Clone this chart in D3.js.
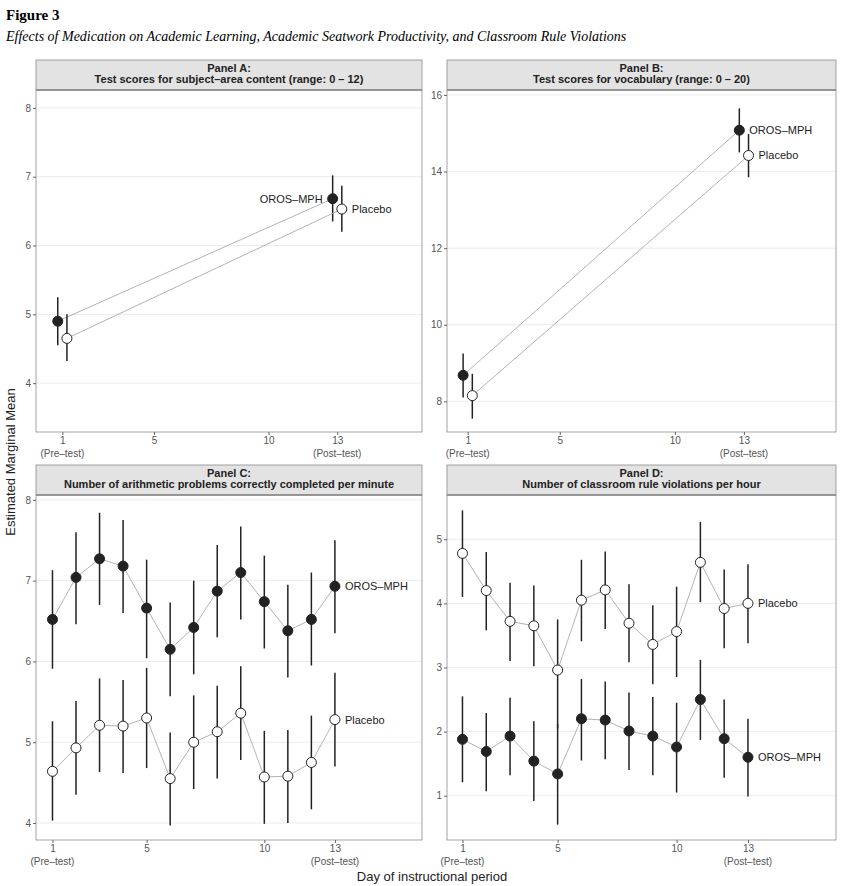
<!DOCTYPE html>
<html><head><meta charset="utf-8">
<script src="https://cdn.jsdelivr.net/npm/d3@7"></script>
<style>
body{margin:0;background:#fff}
text{font-family:"Liberation Sans Narrow","Liberation Sans",Arial,sans-serif}
</style></head>
<body><svg id="fig" width="843" height="886"></svg>
<script>
// data
const days = [1,2,3,4,5,6,7,8,9,10,11,12,13];

const aOros = [4.9, 6.68], aOrosLo = [4.55, 6.35], aOrosHi = [5.25, 7.02];
const aPlac = [4.65, 6.53], aPlacLo = [4.32, 6.2], aPlacHi = [5.0, 6.87];

const bOros = [8.68, 15.08], bOrosLo = [8.1, 14.5], bOrosHi = [9.25, 15.65];
const bPlac = [8.15, 14.42], bPlacLo = [7.55, 13.85], bPlacHi = [8.72, 14.98];

const cOros = [6.52,7.04,7.27,7.18,6.66,6.15,6.42,6.87,7.1,6.74,6.38,6.52,6.93];
const cOrosLo = [5.91,6.46,6.7,6.6,6.04,5.57,5.84,6.3,6.52,6.16,5.8,5.95,6.35];
const cOrosHi = [7.13,7.6,7.84,7.75,7.26,6.73,7.0,7.44,7.67,7.31,6.95,7.1,7.5];
const cPlac = [4.64,4.93,5.21,5.2,5.3,4.55,5.0,5.13,5.36,4.57,4.58,4.75,5.28];
const cPlacLo = [4.03,4.35,4.63,4.62,4.68,3.97,4.42,4.55,4.78,3.99,4.0,4.17,4.7];
const cPlacHi = [5.26,5.51,5.79,5.77,5.92,5.12,5.58,5.7,5.94,5.14,5.15,5.33,5.86];

const dPlac = [4.78,4.2,3.72,3.65,2.96,4.05,4.21,3.69,3.36,3.56,4.64,3.92,4.0];
const dPlacLo = [4.1,3.58,3.1,3.02,2.05,3.41,3.6,3.08,2.74,2.85,4.02,3.3,3.38];
const dPlacHi = [5.45,4.8,4.32,4.28,3.75,4.68,4.81,4.3,3.97,4.26,5.27,4.53,4.61];
const dOros = [1.88,1.69,1.93,1.54,1.34,2.2,2.18,2.01,1.93,1.76,2.5,1.89,1.6];
const dOrosLo = [1.21,1.07,1.32,0.92,0.55,1.55,1.57,1.4,1.32,1.05,1.87,1.28,0.99];
const dOrosHi = [2.55,2.29,2.53,2.16,2.12,2.82,2.78,2.61,2.54,2.45,3.12,2.5,2.2];

const xTicks = [1,5,10,13];

const svg = d3.select("#fig");

svg.append("text").attr("x",6).attr("y",20).text("Figure 3")
  .style("font-family","Liberation Serif").style("font-weight","bold").style("font-size","15px");
svg.append("text").attr("x",6).attr("y",41)
  .text("Effects of Medication on Academic Learning, Academic Seatwork Productivity, and Classroom Rule Violations")
  .style("font-family","Liberation Serif").style("font-style","italic").style("font-size","14px");

function pre(arr, lo, hi){ return arr.map((v,i)=>({v, lo:lo[i], hi:hi[i]})); }

const panels = [
  {l:36, r:422, t:60, b:432, title:["Panel A:","Test scores for subject–area content (range: 0 – 12)"],
   x:[-0.15,16.7], y:[3.29,8.26], yt:[4,5,6,7,8], dodge:0.2, xs:[1,13],
   oros:pre(aOros,aOrosLo,aOrosHi), plac:pre(aPlac,aPlacLo,aPlacHi), orosLeft:true},
  {l:447, r:836, t:60, b:432, title:["Panel B:","Test scores for vocabulary (range: 0 – 20)"],
   x:[0.1,17.0], y:[7.2,16.13], yt:[8,10,12,14,16], dodge:0.2, xs:[1,13],
   oros:pre(bOros,bOrosLo,bOrosHi), plac:pre(bPlac,bPlacLo,bPlacHi)},
  {l:36, r:422, t:465, b:840, title:["Panel C:","Number of arithmetic problems correctly completed per minute"],
   x:[0.3,16.7], y:[3.79,8.06], yt:[4,5,6,7,8], dodge:0, xs:days,
   oros:pre(cOros,cOrosLo,cOrosHi), plac:pre(cPlac,cPlacLo,cPlacHi)},
  {l:447, r:836, t:465, b:840, title:["Panel D:","Number of classroom rule violations per hour"],
   x:[0.35,16.7], y:[0.31,5.69], yt:[1,2,3,4,5], dodge:0, xs:days,
   oros:pre(dOros,dOrosLo,dOrosHi), plac:pre(dPlac,dPlacLo,dPlacHi)}
];

panels.forEach(p => {
  const g = svg.append("g");
  const st = 30;
  const x = d3.scaleLinear().domain(p.x).range([p.l, p.r]);
  const y = d3.scaleLinear().domain(p.y).range([p.b, p.t+st]);

  // strip
  g.append("rect").attr("x",p.l).attr("y",p.t).attr("width",p.r-p.l).attr("height",st)
    .attr("fill","#e3e3e3").attr("stroke","#8c8c8c").attr("stroke-width",0.8);
  g.append("line").attr("x1",p.l).attr("x2",p.r).attr("y1",p.t+st).attr("y2",p.t+st)
    .attr("stroke","#8c8c8c").attr("stroke-width",1.6);
  p.title.forEach((s,i)=> g.append("text").attr("x",(p.l+p.r)/2).attr("y",p.t+12+i*11)
    .attr("text-anchor","middle").style("font-size","11px").style("font-weight","bold").attr("fill","#222").text(s));

  // grid
  g.selectAll(".gr").data(p.yt).enter().append("line")
    .attr("x1",p.l).attr("x2",p.r).attr("y1",d=>y(d)).attr("y2",d=>y(d))
    .attr("stroke","#ececec").attr("stroke-width",1);
  g.append("rect").attr("x",p.l).attr("y",p.t+st).attr("width",p.r-p.l).attr("height",p.b-p.t-st)
    .attr("fill","none").attr("stroke","#8c8c8c").attr("stroke-width",0.8);

  // axes
  const ya = g.append("g").attr("transform",`translate(${p.l},0)`)
    .call(d3.axisLeft(y).tickValues(p.yt).tickFormat(d3.format("d")).tickSize(3).tickPadding(2));
  const xa = g.append("g").attr("transform",`translate(0,${p.b})`)
    .call(d3.axisBottom(x).tickValues(xTicks).tickFormat(d3.format("d")).tickSize(3).tickPadding(2));
  [ya,xa].forEach(a=>{ a.select(".domain").remove();
    a.selectAll("line").attr("stroke","#666");
    a.selectAll("text").attr("fill","#555").style("font-size","10px"); });
  [[1,"(Pre–test)"],[13,"(Post–test)"]].forEach(([d,s])=> g.append("text")
    .attr("x",x(d)).attr("y",p.b+25).attr("text-anchor","middle").style("font-size","10px")
    .attr("fill","#555").text(s));

  // series
  [[p.oros,-p.dodge,"#222"],[p.plac,p.dodge,"#fff"]].forEach(([data,dx,fill],k)=>{
    const pts = data.map((d,i)=>({...d, xd:p.xs[i]+dx}));
    g.append("path").datum(pts)
      .attr("d", d3.line().x(d=>x(d.xd)).y(d=>y(d.v)))
      .attr("fill","none").attr("stroke","#aaa").attr("stroke-width",0.9);
    g.selectAll(".eb"+k).data(pts).enter().append("line")
      .attr("x1",d=>x(d.xd)).attr("x2",d=>x(d.xd)).attr("y1",d=>y(d.lo)).attr("y2",d=>y(d.hi))
      .attr("stroke","#222").attr("stroke-width",1.5);
    g.selectAll(".pt"+k).data(pts).enter().append("circle")
      .attr("cx",d=>x(d.xd)).attr("cy",d=>y(d.v)).attr("r",5)
      .attr("fill",fill).attr("stroke","#222").attr("stroke-width",1);
    const last = pts[pts.length-1];
    const left = k===0 && p.orosLeft;
    g.append("text").attr("x",x(last.xd)+(left?-10:10)).attr("y",y(last.v)+4)
      .attr("text-anchor",left?"end":"start").style("font-size","11px").attr("fill","#222")
      .text(k===0?"OROS–MPH":"Placebo");
  });
});

svg.append("text").attr("transform","translate(15,462) rotate(-90)").attr("text-anchor","middle")
  .style("font-family","Liberation Sans").style("font-size","13px").attr("fill","#222").text("Estimated Marginal Mean");
svg.append("text").attr("x",432).attr("y",881).attr("text-anchor","middle")
  .style("font-family","Liberation Sans").style("font-size","13px").attr("fill","#222").text("Day of instructional period");
</script></body></html>
